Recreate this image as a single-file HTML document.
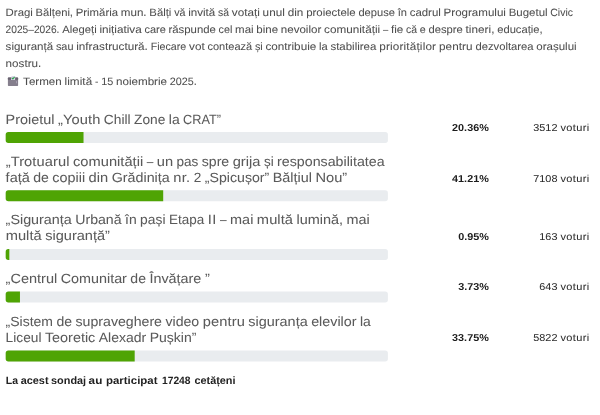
<!DOCTYPE html>
<html lang="ro">
<head>
<meta charset="utf-8">
<title>Sondaj Buget Civic</title>
<style>
html,body{margin:0;padding:0;background:#fff;}
body{width:600px;height:415px;position:relative;overflow:hidden;font-family:"Liberation Sans", sans-serif;text-rendering:geometricPrecision;filter:blur(0.3px);}
.t{position:absolute;left:0;white-space:nowrap;line-height:1;margin:0;}
.t span{position:absolute;left:0;top:0;transform-origin:0 0;}
.body{font-size:10.67px;color:#4e4e4e;-webkit-text-stroke:0.04px;}
.head{font-size:13.33px;color:#5a5a5a;-webkit-text-stroke:0.04px;}
.bold{font-size:10.67px;color:#222222;font-weight:700;}
.pct{font-size:10px;color:#1c1c1c;font-weight:700;}
.vot{font-size:10px;color:#2a2a2a;-webkit-text-stroke:0.04px;}
.bars{position:absolute;left:0;top:0;}
.ico{position:absolute;left:7px;top:75.1px;}
</style>
</head>
<body>
<div class="t body" style="top:8px"><span style="transform:translateX(5.60px) scaleX(1.0695)">Dragi</span> <span style="transform:translateX(35.59px) scaleX(1.0520)">Bălțeni,</span> <span style="transform:translateX(75.73px) scaleX(1.0668)">Primăria</span> <span style="transform:translateX(120.80px) scaleX(1.0876)">mun.</span> <span style="transform:translateX(149.33px) scaleX(1.0644)">Bălți</span> <span style="transform:translateX(174.15px) scaleX(1.0030)">vă</span> <span style="transform:translateX(188.20px) scaleX(1.0888)">invită</span> <span style="transform:translateX(218.05px) scaleX(0.9758)">să</span> <span style="transform:translateX(231.79px) scaleX(1.1000)">votați</span> <span style="transform:translateX(262.61px) scaleX(1.1000);letter-spacing:0.035px">unul</span> <span style="transform:translateX(287.68px) scaleX(1.1000);letter-spacing:0.031px">din</span> <span style="transform:translateX(306.17px) scaleX(1.0708)">proiectele</span> <span style="transform:translateX(358.41px) scaleX(1.0443)">depuse</span> <span style="transform:translateX(397.67px) scaleX(1.0415)">în</span> <span style="transform:translateX(409.68px) scaleX(1.0722)">cadrul</span> <span style="transform:translateX(443.56px) scaleX(1.0853)">Programului</span> <span style="transform:translateX(508.66px) scaleX(1.0770)">Bugetul</span> <span style="transform:translateX(550.35px) scaleX(0.9776)">Civic</span></div>
<div class="t body" style="top:25px"><span style="transform:translateX(5.60px) scaleX(0.9564)">2025–2026.</span> <span style="transform:translateX(62.21px) scaleX(1.0564)">Alegeți</span> <span style="transform:translateX(99.38px) scaleX(1.0982)">inițiativa</span> <span style="transform:translateX(144.41px) scaleX(1.0283)">care</span> <span style="transform:translateX(168.48px) scaleX(1.0658)">răspunde</span> <span style="transform:translateX(218.59px) scaleX(1.0096)">cel</span> <span style="transform:translateX(235.09px) scaleX(1.0791)">mai</span> <span style="transform:translateX(256.37px) scaleX(1.0771)">bine</span> <span style="transform:translateX(280.83px) scaleX(1.0837)">nevoilor</span> <span style="transform:translateX(324.03px) scaleX(1.1000);letter-spacing:0.008px">comunității</span> <span style="transform:translateX(382.91px) scaleX(0.8897)">–</span> <span style="transform:translateX(390.94px) scaleX(1.0935)">fie</span> <span style="transform:translateX(406.00px) scaleX(0.9763)">că</span> <span style="transform:translateX(419.75px) scaleX(1.0036)">e</span> <span style="transform:translateX(428.45px) scaleX(1.0535)">despre</span> <span style="transform:translateX(465.56px) scaleX(1.1000);letter-spacing:0.036px">tineri,</span> <span style="transform:translateX(497.23px) scaleX(1.0477)">educație,</span></div>
<div class="t body" style="top:42px"><span style="transform:translateX(5.60px) scaleX(1.0841)">siguranță</span> <span style="transform:translateX(55.89px) scaleX(1.0225)">sau</span> <span style="transform:translateX(76.22px) scaleX(1.1000)">infrastructură.</span> <span style="transform:translateX(150.69px) scaleX(1.0016)">Fiecare</span> <span style="transform:translateX(189.05px) scaleX(1.0989)">vot</span> <span style="transform:translateX(207.43px) scaleX(1.0343)">contează</span> <span style="transform:translateX(254.92px) scaleX(1.0142)">și</span> <span style="transform:translateX(265.49px) scaleX(1.0986)">contribuie</span> <span style="transform:translateX(319.02px) scaleX(1.0463)">la</span> <span style="transform:translateX(330.46px) scaleX(1.0755)">stabilirea</span> <span style="transform:translateX(379.18px) scaleX(1.1000);letter-spacing:0.160px">priorităților</span> <span style="transform:translateX(438.91px) scaleX(1.1000);letter-spacing:0.085px">pentru</span> <span style="transform:translateX(475.42px) scaleX(1.0543)">dezvoltarea</span> <span style="transform:translateX(536.27px) scaleX(1.0819)">orașului</span></div>
<div class="t body" style="top:59px"><span style="transform:translateX(5.60px) scaleX(1.0939)">nostru.</span></div>
<svg class="ico" width="12" height="12" viewBox="0 0 12 12">
<rect x="0.9" y="2.6" width="10.2" height="8.4" rx="0.7" fill="#857f8d"/>
<rect x="0.9" y="2.6" width="10.2" height="2.2" rx="0.5" fill="#68616f"/>
<path d="M4.0 4.9 L4.6 0.9 L8.4 1.2 L8.0 4.9 Z" fill="#d9d2e6"/>
<path d="M5.0 3.0 L5.9 3.9 L7.6 1.8" stroke="#2fa84f" stroke-width="1.1" fill="none"/>
<rect x="9" y="6.1" width="0.9" height="2.2" fill="#aaa4b5"/>
</svg>
<div class="t body" style="top:77px"><span style="transform:translateX(23.10px) scaleX(1.0853)">Termen</span> <span style="transform:translateX(64.47px) scaleX(1.1000);letter-spacing:0.068px">limită</span> <span style="transform:translateX(94.99px) scaleX(0.9554)">-</span> <span style="transform:translateX(101.14px) scaleX(1.0196)">15</span> <span style="transform:translateX(115.98px) scaleX(1.0910)">noiembrie</span> <span style="transform:translateX(169.78px) scaleX(1.0129)">2025.</span></div>
<div class="t head" style="top:113px"><span style="transform:translateX(5.60px) scaleX(1.0801)">Proietul</span> <span style="transform:translateX(57.92px) scaleX(1.1000);letter-spacing:0.096px">„Youth</span> <span style="transform:translateX(103.80px) scaleX(1.0354)">Chill</span> <span style="transform:translateX(134.09px) scaleX(1.0293)">Zone</span> <span style="transform:translateX(168.82px) scaleX(1.0467)">la</span> <span style="transform:translateX(183.12px) scaleX(0.9548)">CRAT”</span></div>
<div class="t head" style="top:155px"><span style="transform:translateX(5.65px) scaleX(1.1000);letter-spacing:0.087px">„Trotuarul</span> <span style="transform:translateX(73.02px) scaleX(1.1000);letter-spacing:0.012px">comunității</span> <span style="transform:translateX(146.68px) scaleX(0.8906)">–</span> <span style="transform:translateX(156.74px) scaleX(1.1000);letter-spacing:0.013px">un</span> <span style="transform:translateX(176.51px) scaleX(1.0176)">pas</span> <span style="transform:translateX(201.82px) scaleX(1.0556)">spre</span> <span style="transform:translateX(232.65px) scaleX(1.1000);letter-spacing:0.022px">grija</span> <span style="transform:translateX(263.91px) scaleX(1.0106)">și</span> <span style="transform:translateX(277.09px) scaleX(1.0666)">responsabilitatea</span></div>
<div class="t head" style="top:171px"><span style="transform:translateX(5.60px) scaleX(1.0888)">față</span> <span style="transform:translateX(33.25px) scaleX(1.0535)">de</span> <span style="transform:translateX(52.32px) scaleX(1.0792)">copiii</span> <span style="transform:translateX(88.57px) scaleX(1.1000);letter-spacing:0.054px">din</span> <span style="transform:translateX(111.75px) scaleX(1.0711)">Grădinița</span> <span style="transform:translateX(173.28px) scaleX(1.1000);letter-spacing:0.273px">nr.</span> <span style="transform:translateX(193.79px) scaleX(1.0212)">2</span> <span style="transform:translateX(204.81px) scaleX(1.0614)">„Spicușor”</span> <span style="transform:translateX(272.72px) scaleX(1.0815)">Bălțiul</span> <span style="transform:translateX(315.44px) scaleX(1.0984)">Nou”</span></div>
<div class="t head" style="top:213px"><span style="transform:translateX(5.60px) scaleX(1.0759)">„Siguranța</span> <span style="transform:translateX(75.21px) scaleX(1.0613)">Urbană</span> <span style="transform:translateX(125.06px) scaleX(1.0441)">în</span> <span style="transform:translateX(140.12px) scaleX(1.0373)">pași</span> <span style="transform:translateX(168.94px) scaleX(1.0100)">Etapa</span> <span style="transform:translateX(207.79px) scaleX(1.1000);letter-spacing:0.383px">II</span> <span style="transform:translateX(220.01px) scaleX(0.8933)">–</span> <span style="transform:translateX(230.09px) scaleX(1.0826)">mai</span> <span style="transform:translateX(256.84px) scaleX(1.1000);letter-spacing:0.070px">multă</span> <span style="transform:translateX(296.48px) scaleX(1.0850)">lumină,</span> <span style="transform:translateX(346.55px) scaleX(1.0826)">mai</span></div>
<div class="t head" style="top:229px"><span style="transform:translateX(5.63px) scaleX(1.1000);letter-spacing:0.055px">multă</span> <span style="transform:translateX(45.20px) scaleX(1.0927)">siguranță”</span></div>
<div class="t head" style="top:272px"><span style="transform:translateX(5.60px) scaleX(1.0892)">„Centrul</span> <span style="transform:translateX(60.68px) scaleX(1.0769)">Comunitar</span> <span style="transform:translateX(130.33px) scaleX(1.0527)">de</span> <span style="transform:translateX(149.39px) scaleX(1.0788)">Învățare</span> <span style="transform:translateX(205.07px) scaleX(1.1000);letter-spacing:0.506px">”</span></div>
<div class="t head" style="top:315px"><span style="transform:translateX(5.60px) scaleX(1.0499)">„Sistem</span> <span style="transform:translateX(56.47px) scaleX(1.0527)">de</span> <span style="transform:translateX(75.52px) scaleX(1.0609)">supraveghere</span> <span style="transform:translateX(165.45px) scaleX(1.0592)">video</span> <span style="transform:translateX(202.70px) scaleX(1.1000);letter-spacing:0.098px">pentru</span> <span style="transform:translateX(248.32px) scaleX(1.0825)">siguranța</span> <span style="transform:translateX(311.13px) scaleX(1.0746)">elevilor</span> <span style="transform:translateX(359.96px) scaleX(1.0452)">la</span></div>
<div class="t head" style="top:331px"><span style="transform:translateX(5.60px) scaleX(1.0287)">Liceul</span> <span style="transform:translateX(44.88px) scaleX(1.0799)">Teoretic</span> <span style="transform:translateX(98.72px) scaleX(1.0499)">Alexadr</span> <span style="transform:translateX(149.63px) scaleX(1.0512)">Pușkin”</span></div>
<div class="t bold" style="top:376px"><span style="transform:translateX(5.87px) scaleX(0.9851)">La</span> <span style="transform:translateX(20.67px) scaleX(1.0215)">acest</span> <span style="transform:translateX(51.07px) scaleX(1.0206)">sondaj</span> <span style="transform:translateX(88.57px) scaleX(1.1000);letter-spacing:0.169px">au</span> <span style="transform:translateX(105.97px) scaleX(1.0747)">participat</span> <span style="transform:translateX(161.97px) scaleX(0.9633)">17248</span> <span style="transform:translateX(194.47px) scaleX(1.0191)">cetățeni</span></div>
<div class="t pct" style="top:124px"><span style="transform:translateX(452.08px) scaleX(1.0825)">20.36%</span></div>
<div class="t vot" style="top:124px"><span style="transform:translateX(533.26px) scaleX(1.0869)">3512</span> <span style="transform:translateX(560.39px) scaleX(1.1000);letter-spacing:0.349px">voturi</span></div>
<div class="t pct" style="top:175px"><span style="transform:translateX(452.08px) scaleX(1.0825)">41.21%</span></div>
<div class="t vot" style="top:175px"><span style="transform:translateX(533.26px) scaleX(1.0869)">7108</span> <span style="transform:translateX(560.39px) scaleX(1.1000);letter-spacing:0.349px">voturi</span></div>
<div class="t pct" style="top:233px"><span style="transform:translateX(458.13px) scaleX(1.0816)">0.95%</span></div>
<div class="t vot" style="top:233px"><span style="transform:translateX(539.31px) scaleX(1.0869)">163</span> <span style="transform:translateX(560.39px) scaleX(1.1000);letter-spacing:0.349px">voturi</span></div>
<div class="t pct" style="top:283px"><span style="transform:translateX(458.13px) scaleX(1.0816)">3.73%</span></div>
<div class="t vot" style="top:283px"><span style="transform:translateX(539.31px) scaleX(1.0869)">643</span> <span style="transform:translateX(560.39px) scaleX(1.1000);letter-spacing:0.349px">voturi</span></div>
<div class="t pct" style="top:334px"><span style="transform:translateX(452.08px) scaleX(1.0825)">33.75%</span></div>
<div class="t vot" style="top:334px"><span style="transform:translateX(533.26px) scaleX(1.0869)">5822</span> <span style="transform:translateX(560.39px) scaleX(1.1000);letter-spacing:0.349px">voturi</span></div>
<svg class="bars" width="600" height="415" viewBox="0 0 600 415">
<rect x="5.7" y="131.9" width="382.2" height="11" rx="2.7" fill="#e9ecef"/><path fill="#4fa404" d="M8.40 131.90H83.52V142.90H8.40A2.7 2.7 0 0 1 5.70 140.20V134.60A2.7 2.7 0 0 1 8.40 131.90Z"/>
<rect x="5.7" y="190.3" width="382.2" height="11" rx="2.7" fill="#e9ecef"/><path fill="#4fa404" d="M8.40 190.30H163.20V201.30H8.40A2.7 2.7 0 0 1 5.70 198.60V193.00A2.7 2.7 0 0 1 8.40 190.30Z"/>
<rect x="5.7" y="249" width="382.2" height="11" rx="2.7" fill="#e9ecef"/><path fill="#4fa404" d="M8.40 249.00H9.33V260.00H8.40A2.7 2.7 0 0 1 5.70 257.30V251.70A2.7 2.7 0 0 1 8.40 249.00Z"/>
<rect x="5.7" y="291.4" width="382.2" height="11" rx="2.7" fill="#e9ecef"/><path fill="#4fa404" d="M8.40 291.40H19.96V302.40H8.40A2.7 2.7 0 0 1 5.70 299.70V294.10A2.7 2.7 0 0 1 8.40 291.40Z"/>
<rect x="5.7" y="350.4" width="382.2" height="11" rx="2.7" fill="#e9ecef"/><path fill="#4fa404" d="M8.40 350.40H134.69V361.40H8.40A2.7 2.7 0 0 1 5.70 358.70V353.10A2.7 2.7 0 0 1 8.40 350.40Z"/>
</svg>
</body>
</html>
